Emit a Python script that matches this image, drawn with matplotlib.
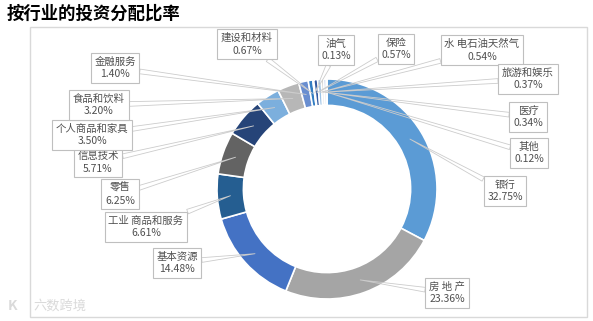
import matplotlib

matplotlib.use('Agg')
import matplotlib.pyplot as plt
from matplotlib.patches import Rectangle
import numpy as np

plt.rcParams['font.family'] = ['Noto Sans CJK SC', 'DejaVu Sans']

# Sectors clockwise from 12 o'clock, with their shares in percent
sectors = ['银行', '房 地 产', '基本资源', '工业 商品和服务', '零售', '信息技术',
           '个人商品和家具', '食品和饮料', '金融服务', '建设和材料', '油气', '保险',
           '水 电石油天然气', '旅游和娱乐', '医疗', '其他']
shares = [32.75, 23.36, 14.48, 6.61, 6.25, 5.71, 3.50, 3.20, 1.40, 0.67,
          0.13, 0.57, 0.54, 0.37, 0.34, 0.12]

colors = ['#5B9BD5', '#A5A5A5', '#4472C4', '#255E91', '#636363', '#264478',
          '#7CAFDD', '#B7B7B7', '#698ED0', '#327DC2', '#848484', '#335AA1',
          '#9DC3E6', '#C9C9C9', '#8FAADC', '#2E75B6']

# Where each callout box sits (pixels from the top-left corner)
label_pos = [(505, 191), (447, 293), (177, 263), (146, 227), (120, 194),
             (98, 162), (92, 135), (99, 105), (115, 68), (247, 44),
             (336, 50), (396, 49), (482, 50), (528, 79), (528, 117),
             (529, 153)]

W, H = 593, 321
fig = plt.figure(figsize=(W / 100, H / 100), dpi=100)
fig.patch.set_facecolor('white')

# light frame around the chart area
fig.patches.append(Rectangle((30 / W, (H - 317) / H), 557 / W, 290 / H,
                             transform=fig.transFigure, fill=False,
                             ec='#D9D9D9', lw=1))

fig.text(7 / W, 1 - 14 / H, '按行业的投资分配比率', fontsize=12.5,
         fontweight='bold', ha='left', va='center', color='black')

# donut axes: centre (327, 189) px, radius 110 px
cx, cy, r = 327, 189, 110
ax = fig.add_axes([(cx - r) / W, (H - cy - r) / H, 2 * r / W, 2 * r / H])
wedges, _ = ax.pie(shares, colors=colors, startangle=90, counterclock=False,
                   radius=1, wedgeprops=dict(width=0.24, edgecolor='white',
                                             linewidth=1.2))
ax.set_xlim(-1, 1)
ax.set_ylim(-1, 1)
ax.set_aspect('equal')
ax.axis('off')

for w, name, val, (px, py) in zip(wedges, sectors, shares, label_pos):
    mid = np.deg2rad((w.theta1 + w.theta2) / 2)
    xy = (0.88 * np.cos(mid), 0.88 * np.sin(mid))
    ax.annotate('{}\n{:.2f}%'.format(name, val), xy=xy, xycoords='data',
                xytext=(px, H - py), textcoords='figure pixels',
                ha='center', va='center', fontsize=7.5, color='#505050',
                linespacing=1.35, annotation_clip=False,
                bbox=dict(boxstyle='square,pad=0.35', fc='white',
                          ec='#BFBFBF', lw=0.8),
                arrowprops=dict(arrowstyle='wedge,tail_width=0.45',
                                fc='none', ec='#CCCCCC', lw=0.6,
                                shrinkA=0, shrinkB=0))

# faint watermark in the corner
fig.text(8 / W, 1 - 306 / H, 'K', fontsize=10, color='#DADADA',
         ha='left', va='center', fontweight='bold')
fig.text(33 / W, 1 - 306 / H, '六数跨境', fontsize=9.5, color='#DADADA',
         ha='left', va='center')

fig.savefig('out.png', dpi=100)
